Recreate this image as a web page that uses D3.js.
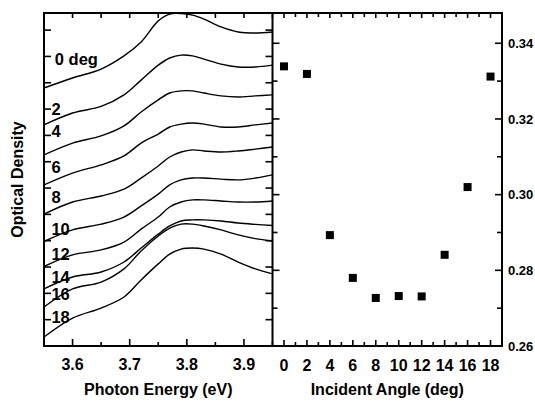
<!DOCTYPE html>
<html>
<head>
<meta charset="utf-8">
<script src="https://cdn.jsdelivr.net/npm/d3@7"></script>
<style>
  body { margin: 0; background: #fff; }
  text { font-family: "Liberation Sans", Arial, sans-serif; font-weight: bold; fill: #000; }
</style>
</head>
<body>
<div id="chart"></div>
<script>
// photon energy grid (eV) the spectra were read at
const energy = [3.55, 3.60, 3.65, 3.69, 3.72, 3.75, 3.77, 3.79, 3.81, 3.83, 3.86, 3.89, 3.92, 3.95];
const angles = [0, 2, 4, 6, 8, 10, 12, 14, 16, 18];

// optical density, offset per angle (arb. units)
const od0  = [9.80, 10.18, 10.52, 11.02, 11.55, 12.35, 12.61, 12.63, 12.57, 12.42, 12.12, 11.93, 11.89, 11.93];
const od2  = [8.40, 8.85, 9.10, 9.54, 10.10, 10.67, 10.94, 11.05, 11.02, 10.90, 10.71, 10.60, 10.60, 10.67];
const od4  = [7.26, 7.71, 7.98, 8.36, 8.89, 9.35, 9.61, 9.69, 9.69, 9.61, 9.50, 9.46, 9.50, 9.54];
const od6  = [6.12, 6.57, 6.88, 7.22, 7.71, 8.05, 8.32, 8.43, 8.47, 8.43, 8.32, 8.32, 8.40, 8.47];
const od8  = [5.01, 5.47, 5.70, 5.96, 6.38, 6.84, 7.18, 7.37, 7.45, 7.41, 7.37, 7.41, 7.48, 7.56];
const od10 = [3.97, 4.41, 4.63, 4.90, 5.32, 5.77, 6.12, 6.31, 6.38, 6.38, 6.34, 6.31, 6.38, 6.50];
const od12 = [3.02, 3.46, 3.65, 3.95, 4.44, 4.90, 5.28, 5.47, 5.55, 5.55, 5.51, 5.47, 5.47, 5.51];
const od14 = [2.17, 2.62, 2.81, 3.19, 3.72, 4.25, 4.56, 4.75, 4.79, 4.79, 4.75, 4.67, 4.62, 4.58];
const od16 = [1.48, 2.17, 2.43, 2.93, 3.61, 4.18, 4.48, 4.63, 4.63, 4.56, 4.41, 4.22, 4.08, 3.99];
const od18 = [0.34, 1.06, 1.44, 1.86, 2.51, 3.12, 3.49, 3.68, 3.72, 3.68, 3.49, 3.19, 2.93, 2.74];
const spectra = [od0, od2, od4, od6, od8, od10, od12, od14, od16, od18];

// where each angle label sits (OD units)
const labelY = [10.67, 8.78, 7.94, 6.57, 5.43, 4.22, 3.27, 2.39, 1.75, 0.87];

// peak optical density vs incident angle
const peakOD = [0.3339, 0.3319, 0.2893, 0.2780, 0.2727, 0.2732, 0.2731, 0.2841, 0.3020, 0.3312];

const eTicks = [3.6, 3.7, 3.8, 3.9];
const angleTicks = [0, 2, 4, 6, 8, 10, 12, 14, 16, 18];
const odTicks = [0.26, 0.28, 0.30, 0.32, 0.34];

const width = 535, height = 409;
const pTop = 13, pBottom = 346, pLeft = 44, pMid = 272.5, pRight = 502;

const x = d3.scaleLinear().domain([3.55, 3.95]).range([pLeft, pMid]);
const y = d3.scaleLinear().domain([0, 12.65]).range([pBottom, pTop]);
const xa = d3.scaleLinear().domain([-1, 19]).range([pMid, pRight]);
const ya = d3.scaleLinear().domain([0.26, 0.348]).range([pBottom, pTop]);

const svg = d3.select("#chart").append("svg").attr("width", width).attr("height", height);

function tick(x1, y1, x2, y2, w) {
  svg.append("line").attr("x1", x1).attr("y1", y1).attr("x2", x2).attr("y2", y2)
    .attr("stroke", "#000").attr("stroke-width", w || 1.6);
}

// ---- left panel: spectra
const line = d3.line().x((d, i) => x(energy[i])).y(d => y(d)).curve(d3.curveCatmullRom.alpha(0.5));
svg.append("g").selectAll("path")
  .data(spectra)
  .enter().append("path")
  .attr("d", d => line(d))
  .attr("fill", "none").attr("stroke", "#000").attr("stroke-width", 1.4);

svg.append("g").selectAll("text")
  .data(angles)
  .enter().append("text")
  .attr("x", (d, i) => i == 0 ? x(3.569) : x(3.563))
  .attr("y", (d, i) => y(labelY[i]))
  .attr("font-size", 16.5)
  .text((d, i) => i == 0 ? d + " deg" : d);

// ticks left panel
d3.range(3.6, 3.95, 0.05).forEach((v, i) => {
  const major = i % 2 == 0;
  tick(x(v), pBottom, x(v), pBottom - (major ? 7 : 4));
  tick(x(v), pTop, x(v), pTop + 5);
});
d3.range(1, 13).forEach(v => {
  tick(pLeft, y(v), pLeft + 7, y(v));
  tick(pMid, y(v), pMid - 7, y(v));
});
svg.append("g").selectAll("text")
  .data(eTicks)
  .enter().append("text")
  .attr("x", d => x(d)).attr("y", 370)
  .attr("text-anchor", "middle").attr("font-size", 16)
  .text(d => d.toFixed(1));

// ---- right panel: peak OD vs angle
d3.range(0, 19).forEach(a => {
  const major = a % 2 == 0;
  tick(xa(a), pBottom, xa(a), pBottom - (major ? 6 : 4));
  tick(xa(a), pTop, xa(a), pTop + (major ? 5 : 4));
});
d3.range(0, 9).forEach(k => {
  const v = 0.26 + k * 0.01;
  const len = k % 2 == 0 ? 7 : 5;
  tick(pMid, ya(v), pMid + len, ya(v));
  tick(pRight, ya(v), pRight - len, ya(v));
});

svg.append("g").selectAll("rect")
  .data(peakOD)
  .enter().append("rect")
  .attr("x", (d, i) => xa(angles[i]) - 4)
  .attr("y", d => ya(d) - 4)
  .attr("width", 8).attr("height", 8)
  .attr("fill", "#000");

svg.append("g").selectAll("text")
  .data(angleTicks)
  .enter().append("text")
  .attr("x", d => xa(d)).attr("y", 371)
  .attr("text-anchor", "middle").attr("font-size", 16)
  .text(d => d);

svg.append("g").selectAll("text")
  .data(odTicks)
  .enter().append("text")
  .attr("x", pRight + 6).attr("y", d => ya(d)).attr("dy", "0.36em")
  .attr("font-size", 13)
  .text(d => d.toFixed(2));

// frames
svg.append("rect").attr("x", pLeft).attr("y", pTop).attr("width", pRight - pLeft).attr("height", pBottom - pTop)
  .attr("fill", "none").attr("stroke", "#000").attr("stroke-width", 2);
tick(pMid, pTop, pMid, pBottom, 2);

// axis titles
svg.append("text")
  .attr("x", (pLeft + pMid) / 2).attr("y", 395)
  .attr("text-anchor", "middle").attr("font-size", 16)
  .text("Photon Energy (eV)");
svg.append("text")
  .attr("x", (pMid + pRight) / 2).attr("y", 395)
  .attr("text-anchor", "middle").attr("font-size", 16)
  .text("Incident Angle (deg)");
svg.append("text")
  .attr("transform", "translate(23," + (pTop + pBottom) / 2 + ") rotate(-90)")
  .attr("text-anchor", "middle").attr("font-size", 16)
  .text("Optical Density");
</script>
</body>
</html>
